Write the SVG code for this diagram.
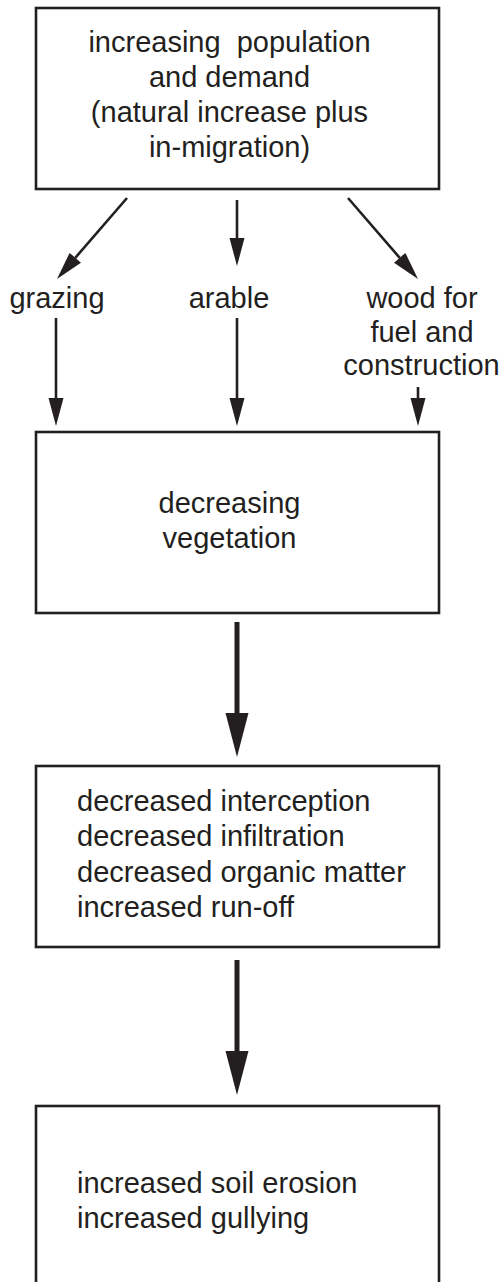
<svg xmlns="http://www.w3.org/2000/svg" width="503" height="1282" viewBox="0 0 503 1282">
<defs>
<style>
.box{fill:#fff;stroke:#231f20;stroke-width:2.6}
.t{font-family:"Liberation Sans",Arial,sans-serif;font-size:29px;fill:#231f20}
.c{text-anchor:middle}
.thin{stroke:#231f20;stroke-width:2.6;fill:none}
.thick{stroke:#231f20;stroke-width:5;fill:none}
</style>
<marker id="ah" markerUnits="userSpaceOnUse" viewBox="0 -8 28 16" refX="0" refY="0" markerWidth="28" markerHeight="16" orient="auto" overflow="visible">
<path d="M0,-7.5 L28,0 L0,7.5 Z" fill="#231f20"/>
</marker>
<marker id="ahb" markerUnits="userSpaceOnUse" viewBox="0 -12 44 24" refX="0" refY="0" markerWidth="44" markerHeight="24" orient="auto" overflow="visible">
<path d="M0,-11.5 L44,0 L0,11.5 Z" fill="#231f20"/>
</marker>
</defs>
<rect width="503" height="1282" fill="#fff"/>
<g id="n1">
<rect class="box" x="36" y="8" width="403" height="181"/>
<text class="t c" x="229.5" y="52" xml:space="preserve">increasing  population</text>
<text class="t c" x="229.5" y="87">and demand</text>
<text class="t c" x="229.5" y="122">(natural increase plus</text>
<text class="t c" x="229.5" y="157">in-migration)</text>
</g>
<g id="l-grazing"><text class="t c" x="57" y="308">grazing</text></g>
<g id="l-arable"><text class="t c" x="229" y="308">arable</text></g>
<g id="l-wood">
<text class="t c" x="422" y="308">wood for</text>
<text class="t c" x="422" y="342">fuel and</text>
<text class="t c" x="421.5" y="375">construction</text>
</g>
<g id="n2">
<rect class="box" x="36" y="432" width="403" height="181"/>
<text class="t c" x="229.5" y="513">decreasing</text>
<text class="t c" x="229.5" y="548">vegetation</text>
</g>
<g id="n3">
<rect class="box" x="36" y="766" width="403" height="181"/>
<text class="t" x="77" y="811">decreased interception</text>
<text class="t" x="77" y="846">decreased infiltration</text>
<text class="t" x="77" y="882">decreased organic matter</text>
<text class="t" x="77" y="917">increased run-off</text>
</g>
<g id="n4">
<rect class="box" x="36" y="1106" width="403" height="220"/>
<text class="t" x="77" y="1193">increased soil erosion</text>
<text class="t" x="77" y="1228">increased gullying</text>
</g>
<g id="connectors">
<line class="thin" x1="127" y1="198" x2="75.3" y2="257.8" marker-end="url(#ah)"/>
<line class="thin" x1="237" y1="200" x2="237" y2="238" marker-end="url(#ah)"/>
<line class="thin" x1="348" y1="198" x2="399.7" y2="257.8" marker-end="url(#ah)"/>
<line class="thin" x1="56" y1="318" x2="56" y2="398" marker-end="url(#ah)"/>
<line class="thin" x1="237" y1="318" x2="237" y2="398" marker-end="url(#ah)"/>
<line class="thin" x1="418" y1="387" x2="418" y2="398" marker-end="url(#ah)"/>
<line class="thick" x1="237" y1="622" x2="237" y2="713" marker-end="url(#ahb)"/>
<line class="thick" x1="237" y1="960" x2="237" y2="1051" marker-end="url(#ahb)"/>
</g>
</svg>
